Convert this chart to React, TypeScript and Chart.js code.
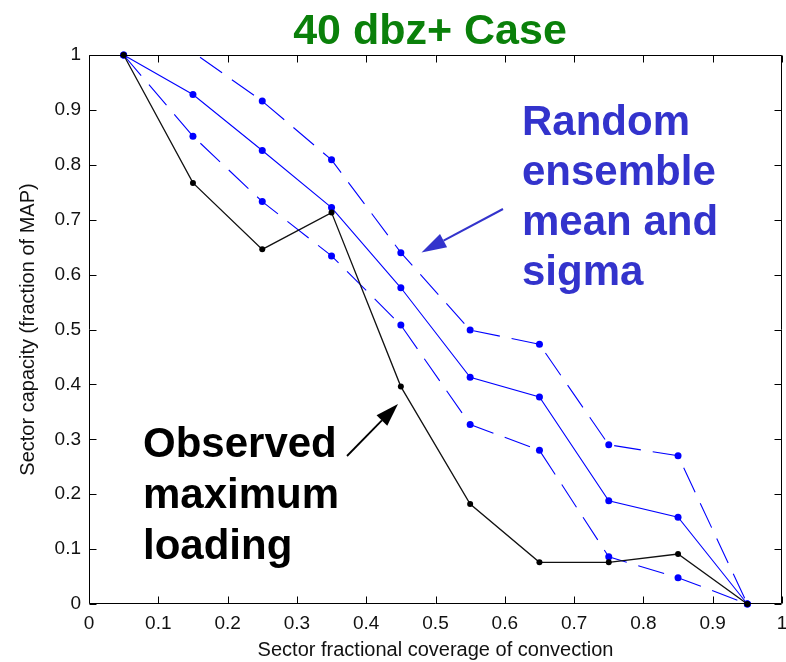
import React, { useEffect, useRef } from "react";
import { Chart, registerables } from "chart.js";

Chart.register(...registerables);

// ---------- data ----------
const coverage = [0.05, 0.15, 0.25, 0.35, 0.45, 0.55, 0.65, 0.75, 0.85, 0.95];
const ensembleMean = [1.0, 0.928, 0.826, 0.722, 0.576, 0.413, 0.377, 0.188, 0.158, 0.0];
const ensembleUpper = [1.0, 1.005, 0.916, 0.809, 0.64, 0.499, 0.473, 0.29, 0.27, 0.0];
const ensembleLower = [1.0, 0.852, 0.733, 0.634, 0.508, 0.327, 0.28, 0.086, 0.048, 0.0];
const observedMax = [1.0, 0.767, 0.646, 0.713, 0.396, 0.182, 0.076, 0.076, 0.091, 0.0];

const xTicks = [0, 0.1, 0.2, 0.3, 0.4, 0.5, 0.6, 0.7, 0.8, 0.9, 1];
const xTickLabels = ["0", "0.1", "0.2", "0.3", "0.4", "0.5", "0.6", "0.7", "0.8", "0.9", "1"];
const yTicks = [0, 0.1, 0.2, 0.3, 0.4, 0.5, 0.6, 0.7, 0.8, 0.9, 1];
const yTickLabels = ["0", "0.1", "0.2", "0.3", "0.4", "0.5", "0.6", "0.7", "0.8", "0.9", "1"];

const chartTitle = "40 dbz+ Case";
const xTitle = "Sector fractional coverage of convection";
const yTitle = "Sector capacity (fraction of MAP)";
const ensembleNote = ["Random", "ensemble", "mean and", "sigma"];
const observedNote = ["Observed", "maximum", "loading"];

// ---------- styles ----------
const FONT = '"Liberation Sans", Arial, Helvetica, sans-serif';
const LINE_BLUE = "rgb(0,0,255)";
const TEXT_BLUE = "rgb(51,51,204)";
const TITLE_GREEN = "rgb(10,128,10)";

function drawArrow(
  ctx: CanvasRenderingContext2D,
  x0: number, y0: number, x1: number, y1: number,
  color: string, width: number, headLen: number, headHalf: number
) {
  const ang = Math.atan2(y1 - y0, x1 - x0);
  const bx = x1 - headLen * Math.cos(ang);
  const by = y1 - headLen * Math.sin(ang);
  ctx.save();
  ctx.strokeStyle = color;
  ctx.fillStyle = color;
  ctx.lineWidth = width;
  ctx.beginPath();
  ctx.moveTo(x0, y0);
  ctx.lineTo(bx, by);
  ctx.stroke();
  ctx.beginPath();
  ctx.moveTo(x1, y1);
  ctx.lineTo(bx + headHalf * Math.sin(ang), by - headHalf * Math.cos(ang));
  ctx.lineTo(bx - headHalf * Math.sin(ang), by + headHalf * Math.cos(ang));
  ctx.closePath();
  ctx.fill();
  ctx.restore();
}

const framePlugin = {
  id: "matlabFrame",
  afterDraw(chart: any) {
    const { ctx, chartArea: a, scales } = chart;
    const xs = scales.x;
    const ys = scales.y;
    const L = Math.round(a.left) + 0.5;
    const R = Math.round(a.right) - 0.5;
    const T = Math.round(a.top) + 0.5;
    const B = Math.round(a.bottom) - 0.5;
    const tl = 7;
    ctx.save();
    ctx.strokeStyle = "#000";
    ctx.lineWidth = 1;
    ctx.beginPath();
    ctx.rect(L, T, R - L, B - T);
    ctx.stroke();
    ctx.beginPath();
    xTicks.forEach((v) => {
      const px = Math.round(xs.getPixelForValue(v)) + 0.5;
      ctx.moveTo(px, B);
      ctx.lineTo(px, B - tl);
      ctx.moveTo(px, T);
      ctx.lineTo(px, T + tl);
    });
    yTicks.forEach((v) => {
      const py = Math.round(ys.getPixelForValue(v)) + 0.5;
      ctx.moveTo(L, py);
      ctx.lineTo(L + tl, py);
      ctx.moveTo(R, py);
      ctx.lineTo(R - tl, py);
    });
    ctx.stroke();

    // title
    ctx.fillStyle = TITLE_GREEN;
    ctx.font = `bold 43px ${FONT}`;
    ctx.textAlign = "center";
    ctx.textBaseline = "alphabetic";
    ctx.fillText(chartTitle, 430, 44);

    // annotations
    ctx.textAlign = "left";
    ctx.font = `bold 42px ${FONT}`;
    ctx.fillStyle = TEXT_BLUE;
    ensembleNote.forEach((t, i) => ctx.fillText(t, 522, 135 + i * 50));
    ctx.fillStyle = "#000";
    observedNote.forEach((t, i) => ctx.fillText(t, 143, 457 + i * 51));

    drawArrow(ctx, 503, 209, 421.5, 252.5, TEXT_BLUE, 2, 25, 7.5);
    drawArrow(ctx, 347, 456, 398, 404, "#000", 1.8, 23, 7.5);
    ctx.restore();
  },
};

function pts(ys: number[]) {
  return coverage.map((x, i) => ({ x, y: ys[i] }));
}

export default function App() {
  const ref = useRef<HTMLCanvasElement | null>(null);

  useEffect(() => {
    if (!ref.current) return;
    const chart = new Chart(ref.current, {
      type: "line",
      data: {
        datasets: [
          {
            label: "Observed maximum loading",
            data: pts(observedMax),
            borderColor: "#111",
            backgroundColor: "#000",
            pointBackgroundColor: "#000",
            borderWidth: 1.3,
            pointRadius: 3,
            pointBorderWidth: 0,
            tension: 0,
            clip: 5,
          },
          {
            label: "Ensemble mean",
            data: pts(ensembleMean),
            borderColor: LINE_BLUE,
            backgroundColor: LINE_BLUE,
            pointBackgroundColor: LINE_BLUE,
            borderWidth: 1.1,
            pointRadius: 3.5,
            pointBorderWidth: 0,
            tension: 0,
            clip: 5,
          },
          {
            label: "Mean + sigma",
            data: pts(ensembleUpper),
            borderColor: LINE_BLUE,
            backgroundColor: LINE_BLUE,
            pointBackgroundColor: LINE_BLUE,
            borderWidth: 1.1,
            borderDash: [27, 12],
            pointRadius: 3.5,
            pointBorderWidth: 0,
            tension: 0,
            clip: 0,
          },
          {
            label: "Mean - sigma",
            data: pts(ensembleLower),
            borderColor: LINE_BLUE,
            backgroundColor: LINE_BLUE,
            pointBackgroundColor: LINE_BLUE,
            borderWidth: 1.1,
            borderDash: [27, 12],
            pointRadius: 3.5,
            pointBorderWidth: 0,
            tension: 0,
            clip: 5,
          },
        ],
      } as any,
      options: {
        responsive: false,
        animation: false,
        events: [],
        layout: { padding: { top: 55, right: 2, bottom: 0, left: 0 } },
        plugins: {
          legend: { display: false },
          tooltip: { enabled: false },
          title: { display: false },
        },
        scales: {
          x: {
            type: "linear",
            min: 0,
            max: 1,
            afterBuildTicks: (s: any) => {
              s.ticks = xTicks.map((v) => ({ value: v }));
            },
            afterFit: (s: any) => {
              s.height = 58;
              s.paddingLeft = 0;
              s.paddingRight = 0;
            },
            grid: { display: false, drawTicks: false },
            border: { display: false },
            ticks: {
              padding: 8,
              maxRotation: 0,
              autoSkip: false,
              color: "#111",
              font: { family: FONT, size: 19 },
              callback: (_v: any, i: number) => xTickLabels[i],
            },
            title: {
              display: true,
              text: xTitle,
              color: "#111",
              font: { family: FONT, size: 20 },
              padding: { top: 0, bottom: 0 },
            },
          },
          y: {
            type: "linear",
            min: 0,
            max: 1,
            afterBuildTicks: (s: any) => {
              s.ticks = yTicks.map((v) => ({ value: v }));
            },
            afterFit: (s: any) => {
              s.width = 89;
            },
            grid: { display: false, drawTicks: false },
            border: { display: false },
            ticks: {
              padding: 8,
              autoSkip: false,
              color: "#111",
              font: { family: FONT, size: 19 },
              callback: (_v: any, i: number) => yTickLabels[i],
            },
            title: {
              display: true,
              text: yTitle,
              color: "#111",
              font: { family: FONT, size: 20 },
              padding: { top: 16, bottom: 0 },
            },
          },
        },
      } as any,
      plugins: [framePlugin],
    });
    return () => chart.destroy();
  }, []);

  return (
    <div style={{ position: "absolute", left: 0, top: 0, width: 786, height: 662, background: "#fff" }}>
      <canvas ref={ref} width={786} height={662} style={{ display: "block" }} />
    </div>
  );
}
